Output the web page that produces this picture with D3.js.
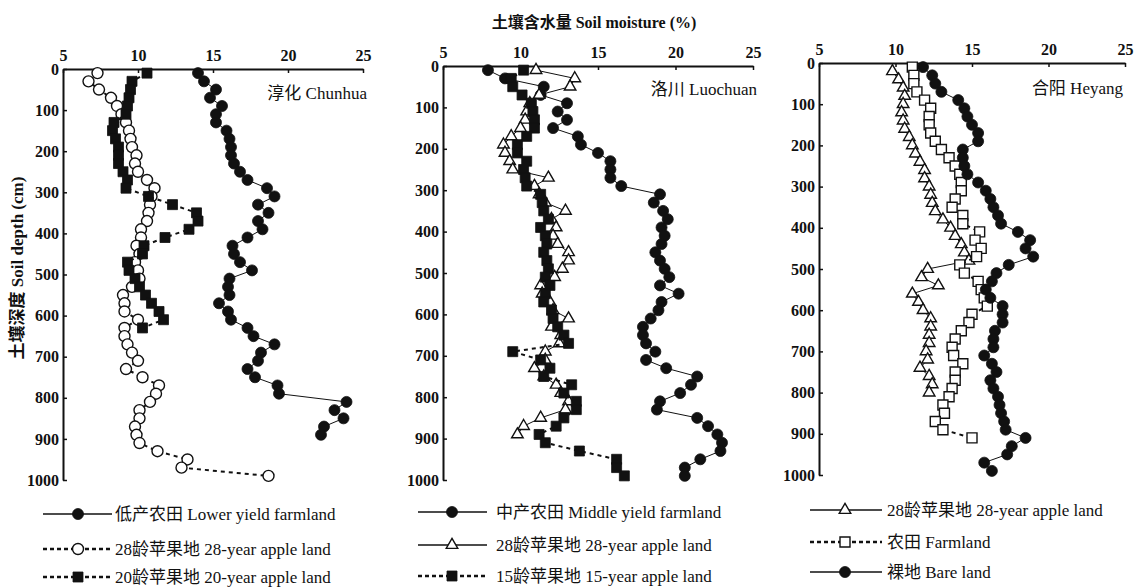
<!DOCTYPE html>
<html>
<head>
<meta charset="utf-8">
<style>
  body{
    margin: 0;
    background: white;
    font-family: 'Liberation Serif', 'Noto Sans CJK SC', serif;
  }
  text { font-weight: bold; fill: #111; font-family: 'Liberation Serif', 'Noto Sans CJK SC', serif; }
</style>
</head>
<body>
<svg id='svgVis'></svg>

<script src="https://cdn.jsdelivr.net/npm/d3@7"></script>
<script>

var width = 1139,
    height = 587;

// depth grids (cm)
var depthsOdd = [10,30,50,70,90,110,130,150,170,190,210,230,250,270,290,310,330,350,370,390,
  410,430,450,470,490,510,530,550,570,590,610,630,650,670,690,710,730,750,770,790,
  810,830,850,870,890,910,930,950,970,990];
var depthsEven = [20,40,60,80,100,120,140,160,180,200,220,240,260,280,300,320,340,360,380,400,
  420,440,460,480,500,520,540,560,580,600,620,640,660,680,700,720,740,760,780,800];

var xTicks = [5,10,15,20,25];
var yTicks = [0,100,200,300,400,500,600,700,800,900,1000];

// Chunhua
var chunhuaLowYield = [14.0,14.4,15.2,14.8,15.6,15.2,15.2,15.9,16.1,16.2,16.2,16.4,16.8,17.3,18.6,19.1,18.0,18.7,18.0,18.3,
  17.3,16.3,16.4,16.8,17.6,16.1,16.0,16.1,15.4,16.0,16.2,17.3,17.7,19.1,18.2,18.0,17.3,17.8,19.3,19.4,
  23.9,23.1,23.7,22.4,22.2];
var chunhuaApple28 = [7.3,6.7,7.4,8.2,8.6,8.9,9.2,9.4,9.5,9.6,9.9,9.8,10.0,10.6,11.1,10.9,10.8,10.7,10.6,10.2,
  10.2,9.9,10.1,9.8,10.0,10.1,9.6,9.0,9.1,9.1,10.0,9.1,9.1,9.3,9.6,10.0,9.2,10.3,11.4,11.2,
  10.8,10.1,10.1,9.8,9.9,10.1,11.3,13.3,12.9,18.7];
var chunhuaApple20 = [10.6,9.6,9.5,9.4,9.3,9.2,8.4,8.3,8.5,8.7,8.7,8.7,9.0,9.3,9.2,10.7,12.3,13.9,14.0,13.4,
  11.8,10.4,10.3,9.3,9.4,9.8,10.1,10.5,10.9,11.4,11.7,10.3];

// Luochuan
var luochuanMidYield = [7.9,9.0,11.5,11.3,13.0,12.4,13.0,12.1,13.7,13.9,15.0,15.8,15.8,15.8,16.5,19.0,18.6,19.2,19.5,19.1,
  19.3,19.1,18.7,19.0,19.3,19.6,19.0,20.2,19.1,18.9,18.4,17.9,17.9,18.1,18.7,18.1,19.4,21.4,21.0,20.3,
  19.0,18.8,21.4,22.1,22.7,23.0,22.9,21.6,20.6,20.6];
var luochuanApple28 = [11.0,13.5,13.2,11.2,10.6,10.4,10.3,10.0,9.4,8.9,9.0,9.3,9.5,11.8,10.9,11.2,11.6,12.9,12.0,12.3,
  12.1,12.4,13.1,13.1,12.7,12.2,11.3,11.4,11.9,12.1,13.1,12.0,12.6,12.5,11.6,11.6,10.9,11.5,12.3,12.6,
  13.1,12.9,11.3,10.2,9.8];
var luochuanApple15 = [10.2,9.4,9.5,10.1,10.7,10.8,10.9,10.9,10.4,9.8,9.8,10.4,10.2,10.3,10.4,11.3,11.4,11.5,11.8,11.3,
  11.6,11.7,11.5,11.7,11.8,11.6,11.9,11.6,11.5,12.0,12.1,12.4,12.8,13.1,9.5,11.3,11.9,11.5,13.3,12.8,
  13.6,13.6,12.8,12.3,11.2,11.6,13.8,16.2,16.2,16.7];

// Heyang
var heyangApple28 = [9.8,10.2,10.5,10.6,10.5,10.4,10.5,10.6,10.9,11.1,11.3,11.6,11.9,11.9,12.2,12.3,12.4,12.6,13.1,13.6,
  13.9,14.3,14.5,14.8,12.1,11.7,12.8,11.1,11.5,11.8,12.3,12.3,12.2,12.2,12.0,12.1,11.6,12.2,12.4,12.2];
var heyangFarmland = [11.1,11.2,11.2,11.4,11.9,12.3,12.2,12.2,12.3,12.6,13.0,13.5,13.9,14.2,14.3,14.3,13.9,13.7,14.4,14.4,
  15.5,15.2,15.6,15.3,14.2,14.5,15.4,15.6,15.8,16.0,15.0,14.8,14.3,13.9,13.7,13.8,14.4,13.9,13.9,13.7,
  13.5,13.1,13.2,12.6,13.1,15.0];
var heyangBare = [11.8,12.4,12.6,13.0,14.1,14.5,14.7,15.0,15.4,15.4,14.4,14.4,14.5,14.7,15.4,15.9,16.2,16.4,16.7,16.9,
  18.0,18.8,18.5,19.0,17.4,16.6,16.3,15.9,16.2,17.0,17.0,17.0,16.5,16.4,16.4,15.8,16.3,16.6,16.2,16.4,
  16.7,16.8,16.9,17.1,17.2,18.5,17.6,17.3,15.8,16.3];

var panels = [
  { name: '淳化  Chunhua', x: [63, 363], y: [69, 480], labelPos: [367, 99],
    legend: { line: [43, 112], mark: 78, text: 115, rows: [520, 555, 583] },
    series: [
      { values: chunhuaLowYield, depths: depthsOdd, sym: 'circle', fill: true, dash: false, label: '低产农田  Lower yield farmland' },
      { values: chunhuaApple28, depths: depthsOdd, sym: 'circle', fill: false, dash: true, label: '28龄苹果地  28-year apple land' },
      { values: chunhuaApple20, depths: depthsOdd, sym: 'square', fill: true, dash: true, label: '20龄苹果地  20-year apple land' }
    ] },
  { name: '洛川  Luochuan', x: [443, 753], y: [66, 480], labelPos: [757, 95],
    legend: { line: [418, 487], mark: 452, text: 496, rows: [518, 551, 582] },
    series: [
      { values: luochuanMidYield, depths: depthsOdd, sym: 'circle', fill: true, dash: false, label: '中产农田  Middle yield farmland' },
      { values: luochuanApple28, depths: depthsOdd, sym: 'triangle', fill: false, dash: false, label: '28龄苹果地  28-year apple land' },
      { values: luochuanApple15, depths: depthsOdd, sym: 'square', fill: true, dash: true, label: '15龄苹果地  15-year apple land' }
    ] },
  { name: '合阳  Heyang', x: [819, 1125], y: [63, 475], labelPos: [1123, 94],
    legend: { line: [810, 882], mark: 845, text: 887, rows: [516, 548, 578] },
    series: [
      { values: heyangApple28, depths: depthsEven, sym: 'triangle', fill: false, dash: false, label: '28龄苹果地  28-year apple land' },
      { values: heyangFarmland, depths: depthsOdd, sym: 'square', fill: false, dash: true, label: '农田  Farmland' },
      { values: heyangBare, depths: depthsOdd, sym: 'circle', fill: true, dash: false, label: '裸地  Bare land' }
    ] }
];

var svg = d3.select('#svgVis')
    .attr('width', width)
    .attr('height', height);

var symbols = {
  circle: d3.symbol().type(d3.symbolCircle).size(95),
  square: d3.symbol().type(d3.symbolSquare).size(100),
  triangle: d3.symbol().type(d3.symbolTriangle).size(58)
};

function drawMarker(g, s, x, y) {
  g.append('path')
    .attr('d', symbols[s.sym]())
    .attr('transform', 'translate(' + x + ',' + y + ')')
    .attr('fill', s.fill ? '#111' : 'white')
    .attr('stroke', '#111')
    .attr('stroke-width', s.fill ? 0.8 : 1.4);
}

// title + y label
svg.append('text')
  .attr('x', 594).attr('y', 28)
  .attr('text-anchor', 'middle')
  .style('font-size', '16px')
  .text('土壤含水量  Soil moisture (%)');

svg.append('text')
  .attr('transform', 'translate(23,268) rotate(-90)')
  .attr('text-anchor', 'middle')
  .style('font-size', '17px')
  .text('土壤深度  Soil depth (cm)');

panels.forEach(function(p) {

  var x = d3.scaleLinear().domain([5, 25]).range(p.x);
  var y = d3.scaleLinear().domain([0, 1000]).range(p.y);

  var g = svg.append('g');

  var xAxis = g.append('g')
    .attr('transform', 'translate(0,' + p.y[0] + ')')
    .call(d3.axisTop(x).tickValues(xTicks).tickFormat(d3.format('d'))
      .tickSizeInner(-4).tickSizeOuter(0).tickPadding(8));

  var yAxis = g.append('g')
    .attr('transform', 'translate(' + p.x[0] + ',0)')
    .call(d3.axisLeft(y).tickValues(yTicks).tickFormat(d3.format('d'))
      .tickSizeInner(-4).tickSizeOuter(0).tickPadding(4));

  [xAxis, yAxis].forEach(function(a) {
    a.attr('font-family', null);
    a.select('.domain').attr('stroke', '#111').attr('stroke-width', 2);
    a.selectAll('.tick line').attr('stroke', '#111').attr('stroke-width', 1.5);
    a.selectAll('.tick text')
      .style('font-size', '16px')
      .attr('fill', '#111');
  });

  g.append('text')
    .attr('x', p.labelPos[0]).attr('y', p.labelPos[1])
    .attr('text-anchor', 'end')
    .style('font-size', '17px')
    .style('font-weight', 'normal')
    .text(p.name);

  var line = d3.line()
    .x(function(d) { return x(d.v); })
    .y(function(d) { return y(d.d); });

  p.series.forEach(function(s) {
    var pts = s.values.map(function(v, i) { return { v: v, d: s.depths[i] }; });

    g.append('path')
      .datum(pts)
      .attr('d', line)
      .attr('fill', 'none')
      .attr('stroke', '#111')
      .attr('stroke-width', s.dash ? 2 : 1)
      .attr('stroke-dasharray', s.dash ? '4,4' : null);

    pts.forEach(function(d) { drawMarker(g, s, x(d.v), y(d.d)); });
  });

  // legend
  p.series.forEach(function(s, i) {
    var ry = p.legend.rows[i] - 6;
    g.append('line')
      .attr('x1', p.legend.line[0]).attr('x2', p.legend.line[1])
      .attr('y1', ry).attr('y2', ry)
      .attr('stroke', '#111')
      .attr('stroke-width', s.dash ? 2.5 : 1.5)
      .attr('stroke-dasharray', s.dash ? '4,3' : null);
    drawMarker(g, s, p.legend.mark, ry);
    g.append('text')
      .attr('x', p.legend.text).attr('y', p.legend.rows[i])
      .style('font-size', '17px')
      .style('font-weight', 'normal')
      .text(s.label);
  });

});

</script>
</body>
</html>
